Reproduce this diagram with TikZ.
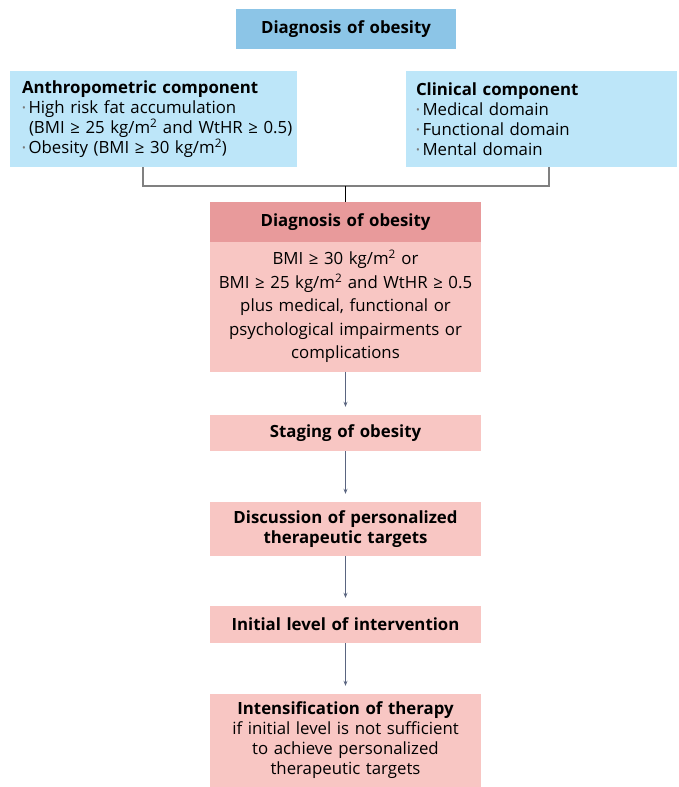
\documentclass[tikz,border=0pt]{standalone}
\usepackage{fontspec}
\setmainfont{Open Sans}
\usepackage{xcolor}
\usetikzlibrary{arrows.meta, positioning}
\definecolor{topblue}{HTML}{8CC5E7}
\definecolor{lightblue}{HTML}{BDE6F9}
\definecolor{headred}{HTML}{E89A9B}
\definecolor{bodyred}{HTML}{F8C6C3}
\definecolor{arrowgray}{HTML}{5A6580}
\definecolor{dotgray}{HTML}{7A7A7A}
\newcommand{\bul}{\raisebox{1.5pt}{\fontsize{10}{10}\selectfont\color{dotgray}\textbullet}\,}

\begin{document}
\begin{tikzpicture}[
        x=1pt, y=-1pt,
        font=\fontsize{16.8}{20}\selectfont,
        box/.style={rectangle, inner xsep=0pt, inner ysep=0pt, text width=271pt, align=center},
        bluebox/.style={rectangle, fill=lightblue, inner xsep=11pt, inner ysep=0pt, minimum height=96pt, align=left},
        redbox/.style={box, fill=bodyred},
        arrow/.style={-{Stealth[length=5pt, width=4pt]}, arrowgray, line width=1.2pt, shorten >=8pt}
    ]
        \useasboundingbox (0,0) rectangle (678,787);
        \node[box, fill=topblue, text width=220pt, minimum height=40pt, font=\fontsize{16.8}{20}\selectfont\bfseries] (top) at (346,29) {Diagnosis of obesity};
        \node[bluebox, inner xsep=12pt, text width=263pt] (anthro) at (153.5,119) {\textbf{Anthropometric component}\\
            \bul High risk fat accumulation\\
            \hspace*{7pt}\mbox{(BMI ≥ 25 kg/m\textsuperscript{2} and WtHR ≥ 0.5)}\\
            \bul Obesity (BMI ≥ 30 kg/m\textsuperscript{2})};
        \node[bluebox, inner xsep=10pt, text width=251pt] (clinical) at (541.5,119) {\textbf{Clinical component}\\
            \bul Medical domain\\
            \bul Functional domain\\
            \bul Mental domain};
        \node[box, fill=headred, minimum height=40pt, font=\fontsize{16.8}{20}\selectfont\bfseries] (diaghead) at (345.5,222) {Diagnosis of obesity};
        \node[redbox, minimum height=130pt, font=\fontsize{16.8}{23.5}\selectfont] (diagbody) at (345.5,306.5) {BMI ≥ 30 kg/m\textsuperscript{2} or\\
            BMI ≥ 25 kg/m\textsuperscript{2} and WtHR ≥ 0.5\\
            plus medical, functional or\\
            psychological impairments or\\
            complications};
        \node[redbox, minimum height=36pt, font=\fontsize{16.8}{20}\selectfont\bfseries] (staging) at (345.5,433) {Staging of obesity};
        \node[redbox, minimum height=54pt, font=\fontsize{16.8}{20}\selectfont\bfseries] (targets) at (345.5,529) {Discussion of personalized\\therapeutic targets};
        \node[redbox, minimum height=37pt, font=\fontsize{16.8}{20}\selectfont\bfseries] (initial) at (345.5,624.5) {Initial level of intervention};
        \node[redbox, minimum height=93pt] (intens) at (345.5,740.5) {\textbf{Intensification of therapy}\\
            if initial level is not sufficient\\
            to achieve personalized\\
            therapeutic targets};
        % bracket joining both components
        \coordinate (join) at (345.5,186);
        \draw[gray, line width=1.2pt] ([xshift=-10.5pt]anthro.south) |- (join) -| ([xshift=7.5pt]clinical.south);
        \draw[black, line width=1pt] (join) -- (diaghead.north);
        \draw[arrow] (diagbody) -- (staging);
        \draw[arrow] (staging) -- (targets);
        \draw[arrow] (targets) -- (initial);
        \draw[arrow] (initial) -- (intens);
    \end{tikzpicture}
\end{document}
